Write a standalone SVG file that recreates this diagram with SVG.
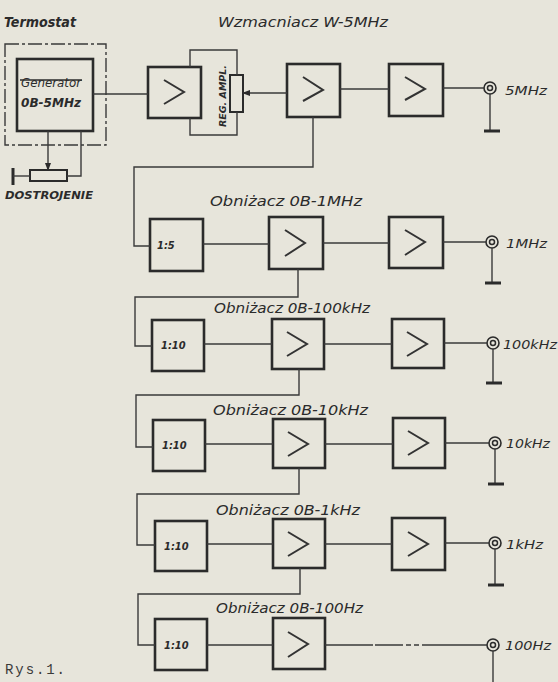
<svg xmlns="http://www.w3.org/2000/svg" width="558" height="682" viewBox="0 0 558 682">
<style>
.bg{fill:#e7e5db}
.box{fill:none;stroke:#2b2b2b;stroke-width:2.6}
.chev{fill:none;stroke:#333;stroke-width:2;stroke-linejoin:miter}
.ln{fill:none;stroke:#3a3a3a;stroke-width:1.4}
.gnd{fill:none;stroke:#2b2b2b;stroke-width:3}
.t{font-family:"DejaVu Sans Condensed","Liberation Sans",sans-serif;font-style:italic;fill:#2b2b2b}
.ttl{font-size:14px}
.lbl{font-size:13px}
.div{font-size:11px;font-weight:bold}
.mono{font-family:"Liberation Mono",monospace;font-size:14px;fill:#3a3a3a}
</style>
<defs>
<marker id="ah" markerWidth="8" markerHeight="8" refX="7" refY="4" orient="auto" markerUnits="userSpaceOnUse">
<path d="M0,1 L8,4 L0,7 Z" fill="#2b2b2b"/>
</marker>
</defs>
<rect class="bg" x="0" y="0" width="558" height="682"/>

<!-- titles -->
<text class="t ttl" x="4" y="27" textLength="72" lengthAdjust="spacingAndGlyphs" font-weight="bold">Termostat</text>
<text class="t ttl" x="218" y="27" textLength="170" lengthAdjust="spacingAndGlyphs">Wzmacniacz W-5MHz</text>

<g id="thermostat">
<rect x="5" y="44" width="101" height="101" fill="none" stroke="#3a3a3a" stroke-width="1.4" stroke-dasharray="14 3 3 3"/>
</g>
<g id="generator">
<rect class="box" x="17" y="59" width="76" height="72"/>
<text class="t lbl" x="21" y="87" textLength="60" lengthAdjust="spacingAndGlyphs">Generator</text>
<line x1="20" y1="80" x2="82" y2="80" stroke="#2b2b2b" stroke-width="1.6"/>
<text class="t lbl" x="21" y="107" textLength="60" lengthAdjust="spacingAndGlyphs" font-weight="bold">0B-5MHz</text>
</g>
<g id="dostrojenie">
<rect x="30" y="170" width="37" height="11" fill="none" stroke="#2b2b2b" stroke-width="2"/>
<line x1="13" y1="168" x2="13" y2="185" class="gnd"/>
<text class="t" x="5" y="199" font-size="11" font-weight="bold" textLength="88" lengthAdjust="spacingAndGlyphs">DOSTROJENIE</text>
</g>
<g id="amp1">
<rect class="box" x="148" y="67" width="53" height="51"/>
<polyline class="chev" points="164,80 184,92 164,104"/>
</g>
<g id="regampl">
<rect x="230" y="75" width="13" height="37" fill="none" stroke="#2b2b2b" stroke-width="2"/>
<text class="t" font-size="9" font-weight="bold" transform="translate(226,96) rotate(-90)" text-anchor="middle" textLength="62" lengthAdjust="spacingAndGlyphs">REG. AMPL.</text>
</g>
<g id="amp2">
<rect class="box" x="287" y="64" width="53" height="53"/>
<polyline class="chev" points="303,77 323,90 303,101"/>
</g>
<g id="amp3">
<rect class="box" x="389" y="64" width="54" height="52"/>
<polyline class="chev" points="405,77 425,89 405,100"/>
</g>
<g id="out5mhz">
<circle cx="490" cy="88" r="6" fill="none" stroke="#2b2b2b" stroke-width="1.6"/>
<circle cx="490" cy="88" r="2.5" fill="none" stroke="#2b2b2b" stroke-width="1.5"/>
<text class="t lbl" x="505" y="95" textLength="42" lengthAdjust="spacingAndGlyphs">5MHz</text>
</g>

<!-- Row 1 -->
<text class="t ttl" x="210" y="206" textLength="152" lengthAdjust="spacingAndGlyphs">Obniżacz 0B-1MHz</text>
<g id="div1">
<rect class="box" x="150" y="219" width="53" height="52"/>
<text class="t div" x="157" y="249">1:5</text>
</g>
<g id="amp1a"><rect class="box" x="269" y="217" width="54" height="52"/><polyline class="chev" points="285,230 305,243 285,256"/></g>
<g id="amp1b"><rect class="box" x="389" y="217" width="54" height="51"/><polyline class="chev" points="405,230 425,242 405,255"/></g>
<g id="out1mhz">
<circle cx="492" cy="242" r="6" fill="none" stroke="#2b2b2b" stroke-width="1.6"/>
<circle cx="492" cy="242" r="2.5" fill="none" stroke="#2b2b2b" stroke-width="1.5"/>
<text class="t lbl" x="506" y="248" textLength="41" lengthAdjust="spacingAndGlyphs">1MHz</text>
</g>

<!-- Row 2 -->
<text class="t ttl" x="214" y="313" textLength="156" lengthAdjust="spacingAndGlyphs">Obniżacz 0B-100kHz</text>
<g id="div2"><rect class="box" x="152" y="320" width="52" height="51"/><text class="t div" x="161" y="349">1:10</text></g>
<g id="amp2a"><rect class="box" x="272" y="319" width="52" height="50"/><polyline class="chev" points="287,332 307,344 287,356"/></g>
<g id="amp2b"><rect class="box" x="392" y="319" width="52" height="49"/><polyline class="chev" points="407,332 427,344 407,356"/></g>
<g id="out100khz">
<circle cx="493" cy="343" r="6" fill="none" stroke="#2b2b2b" stroke-width="1.6"/>
<circle cx="493" cy="343" r="2.5" fill="none" stroke="#2b2b2b" stroke-width="1.5"/>
<text class="t lbl" x="503" y="349" textLength="54" lengthAdjust="spacingAndGlyphs">100kHz</text>
</g>

<!-- Row 3 -->
<text class="t ttl" x="213" y="415" textLength="155" lengthAdjust="spacingAndGlyphs">Obniżacz 0B-10kHz</text>
<g id="div3"><rect class="box" x="153" y="420" width="52" height="51"/><text class="t div" x="162" y="449">1:10</text></g>
<g id="amp3a"><rect class="box" x="273" y="419" width="52" height="49"/><polyline class="chev" points="288,432 308,444 288,456"/></g>
<g id="amp3b"><rect class="box" x="393" y="418" width="52" height="50"/><polyline class="chev" points="408,431 428,443 408,455"/></g>
<g id="out10khz">
<circle cx="495" cy="443" r="6" fill="none" stroke="#2b2b2b" stroke-width="1.6"/>
<circle cx="495" cy="443" r="2.5" fill="none" stroke="#2b2b2b" stroke-width="1.5"/>
<text class="t lbl" x="506" y="448" textLength="44" lengthAdjust="spacingAndGlyphs">10kHz</text>
</g>

<!-- Row 4 -->
<text class="t ttl" x="216" y="515" textLength="144" lengthAdjust="spacingAndGlyphs">Obniżacz 0B-1kHz</text>
<g id="div4"><rect class="box" x="155" y="521" width="52" height="50"/><text class="t div" x="164" y="550">1:10</text></g>
<g id="amp4a"><rect class="box" x="273" y="519" width="52" height="49"/><polyline class="chev" points="288,532 308,544 288,556"/></g>
<g id="amp4b"><rect class="box" x="392" y="518" width="53" height="52"/><polyline class="chev" points="408,532 428,544 408,556"/></g>
<g id="out1khz">
<circle cx="495" cy="543" r="6" fill="none" stroke="#2b2b2b" stroke-width="1.6"/>
<circle cx="495" cy="543" r="2.5" fill="none" stroke="#2b2b2b" stroke-width="1.5"/>
<text class="t lbl" x="506" y="549" textLength="37" lengthAdjust="spacingAndGlyphs">1kHz</text>
</g>

<!-- Row 5 -->
<text class="t ttl" x="216" y="613" textLength="147" lengthAdjust="spacingAndGlyphs">Obniżacz 0B-100Hz</text>
<g id="div5"><rect class="box" x="155" y="619" width="52" height="51"/><text class="t div" x="164" y="649">1:10</text></g>
<g id="amp5a"><rect class="box" x="273" y="618" width="52" height="51"/><polyline class="chev" points="288,632 308,644 288,657"/></g>
<g id="out100hz">
<circle cx="493" cy="645" r="6" fill="none" stroke="#2b2b2b" stroke-width="1.6"/>
<circle cx="493" cy="645" r="2.5" fill="none" stroke="#2b2b2b" stroke-width="1.5"/>
<text class="t lbl" x="505" y="650" textLength="46" lengthAdjust="spacingAndGlyphs">100Hz</text>
</g>

<text class="mono" x="5" y="674" textLength="60" lengthAdjust="spacing">Rys.1.</text>

<g id="connectors">
<!-- generator tuning -->
<line class="ln" x1="48" y1="131" x2="48" y2="170" marker-end="url(#ah)"/>
<line class="ln" x1="13" y1="176" x2="30" y2="176"/>
<polyline class="ln" points="67,176 81,176 81,131"/>
<!-- generator to amp1 -->
<line class="ln" x1="93" y1="94" x2="148" y2="94"/>
<!-- reg ampl bracket -->
<polyline class="ln" points="190,67 190,50 237,50 237,75"/>
<polyline class="ln" points="190,118 190,135 237,135 237,112"/>
<line class="ln" x1="287" y1="93" x2="243" y2="93" marker-end="url(#ah)"/>
<line class="ln" x1="340" y1="89" x2="389" y2="89"/>
<line class="ln" x1="443" y1="88" x2="484" y2="88"/>
<line class="ln" x1="490" y1="94" x2="490" y2="131"/>
<line class="gnd" x1="484" y1="131" x2="500" y2="131"/>
<polyline class="ln" points="313,117 313,167 134,167 134,246 150,246"/>
<!-- row1 -->
<line class="ln" x1="203" y1="244" x2="269" y2="244"/>
<line class="ln" x1="323" y1="243" x2="389" y2="243"/>
<line class="ln" x1="443" y1="242" x2="486" y2="242"/>
<line class="ln" x1="492" y1="248" x2="492" y2="283"/>
<line class="gnd" x1="485" y1="283" x2="501" y2="283"/>
<polyline class="ln" points="298,269 298,297 135,297 135,346 152,346"/>
<!-- row2 -->
<line class="ln" x1="204" y1="344" x2="272" y2="344"/>
<line class="ln" x1="324" y1="344" x2="392" y2="344"/>
<line class="ln" x1="444" y1="343" x2="487" y2="343"/>
<line class="ln" x1="493" y1="349" x2="493" y2="383"/>
<line class="gnd" x1="486" y1="383" x2="502" y2="383"/>
<polyline class="ln" points="299,369 299,395 136,395 136,447 153,447"/>
<!-- row3 -->
<line class="ln" x1="205" y1="444" x2="273" y2="444"/>
<line class="ln" x1="325" y1="444" x2="393" y2="444"/>
<line class="ln" x1="445" y1="443" x2="489" y2="443"/>
<line class="ln" x1="495" y1="449" x2="495" y2="484"/>
<line class="gnd" x1="488" y1="484" x2="504" y2="484"/>
<polyline class="ln" points="299,468 299,494 137,494 137,545 155,545"/>
<!-- row4 -->
<line class="ln" x1="207" y1="544" x2="273" y2="544"/>
<line class="ln" x1="325" y1="544" x2="392" y2="544"/>
<line class="ln" x1="445" y1="543" x2="489" y2="543"/>
<line class="ln" x1="495" y1="549" x2="495" y2="585"/>
<line class="gnd" x1="488" y1="585" x2="504" y2="585"/>
<polyline class="ln" points="300,568 300,594 138,594 138,645 155,645"/>
<!-- row5 -->
<line class="ln" x1="207" y1="645" x2="273" y2="645"/>
<line class="ln" x1="325" y1="645" x2="487" y2="645" stroke-dasharray="48 2 28 3 5 3 5 3 80"/>
<line class="ln" x1="493" y1="651" x2="493" y2="682"/>
</g>
</svg>
